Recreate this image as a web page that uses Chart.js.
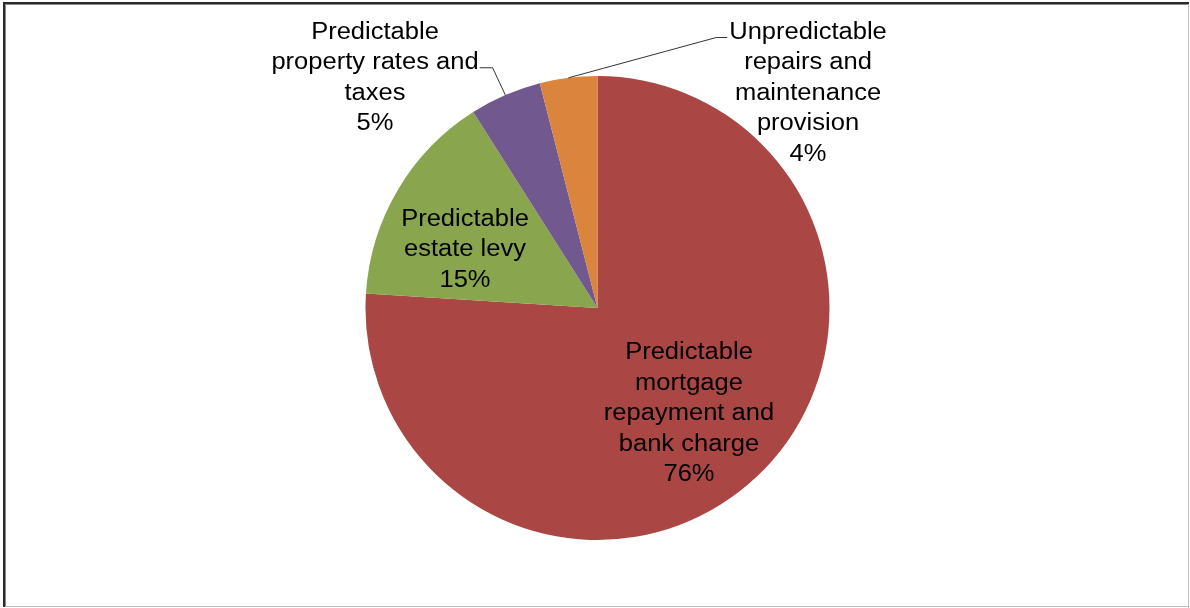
<!DOCTYPE html>
<html>
<head>
<meta charset="utf-8">
<script src="https://cdn.jsdelivr.net/npm/chart.js@4/dist/chart.umd.min.js"></script>
<style>
    html, body { margin: 0; padding: 0; background: #fff; }
    #wrap { position: relative; width: 1190px; height: 608px; }
</style>
</head>
<body>
<div id="wrap"><canvas id="chart" width="1190" height="608"></canvas></div>
<script>
var categories = [
    'Predictable mortgage repayment and bank charge',
    'Predictable estate levy',
    'Predictable property rates and taxes',
    'Unpredictable repairs and maintenance provision'
];
var shares = [76, 15, 5, 4];
var sliceColors = ['#AA4643', '#89A54E', '#71588F', '#DB843D'];

// how each category name wraps on the chart
var labelLines = [
    ['Predictable', 'mortgage', 'repayment and', 'bank charge'],
    ['Predictable', 'estate levy'],
    ['Predictable', 'property rates and', 'taxes'],
    ['Unpredictable', 'repairs and', 'maintenance', 'provision']
];

// label block centre, relative to the pie centre
var labelPos = [
    { dx: 91.5, dy: 106 },
    { dx: -132.5, dy: -58 },
    { dx: -222.5, dy: -230 },
    { dx: 210.5, dy: -214.5 }
];
// leader lines: which text line they attach to and on which side
var leaders = [null, null, { line: 1, side: 'right', dy: 5, run: 13 }, { line: 0, side: 'left', dy: 5, run: 11 }];

var FONT = '23px "Liberation Sans", Arial, sans-serif';
var SX = 1.11;
var LINE_H = 30.5;

var dataLabels = {
    id: 'dataLabels',
    afterDatasetsDraw: function (chart) {
        var ctx = chart.ctx;
        var arcs = chart.getDatasetMeta(0).data;
        ctx.save();
        ctx.font = FONT;
        ctx.fillStyle = '#000';
        ctx.textAlign = 'center';
        ctx.textBaseline = 'middle';
        arcs.forEach(function (arc, i) {
            var lines = labelLines[i].concat([shares[i] + '%']);
            var cx = arc.x + labelPos[i].dx;
            var top = arc.y + labelPos[i].dy - (lines.length - 1) * LINE_H / 2;
            lines.forEach(function (txt, k) {
                ctx.save();
                ctx.translate(cx, top + k * LINE_H);
                ctx.scale(SX, 1);
                ctx.fillText(txt, 0, 0);
                ctx.restore();
            });
            var ld = leaders[i];
            if (ld) {
                var w = ctx.measureText(lines[ld.line]).width * SX;
                var ey = top + ld.line * LINE_H + ld.dy;
                var ex = ld.side === 'right' ? cx + w / 2 + 1 : cx - w / 2 - 2;
                var elbowX = ld.side === 'right' ? ex + ld.run : ex - ld.run;
                var mid = (arc.startAngle + arc.endAngle) / 2;
                var ax = arc.x + Math.cos(mid) * arc.outerRadius;
                var ay = arc.y + Math.sin(mid) * arc.outerRadius;
                ctx.strokeStyle = '#333';
                ctx.lineWidth = 1;
                ctx.beginPath();
                ctx.moveTo(ax, ay);
                ctx.lineTo(elbowX, ey);
                ctx.lineTo(ex, ey);
                ctx.stroke();
            }
        });
        ctx.restore();
    },
    afterDraw: function (chart) {
        // outer frame
        var ctx = chart.ctx;
        ctx.save();
        ctx.fillStyle = '#bdbdbd';
        ctx.fillRect(1188, 2, 1, 606);
        ctx.fillRect(3, 606, 1186, 1);
        ctx.fillStyle = '#2a2a2a';
        ctx.fillRect(3, 2, 1186, 2);
        ctx.fillRect(3, 2, 2, 605);
        ctx.fillStyle = '#8a8a8a';
        ctx.fillRect(5, 4, 1183, 1);
        ctx.fillRect(5, 4, 1, 602);
        ctx.restore();
    }
};

new Chart(document.getElementById('chart'), {
    type: 'pie',
    data: {
        labels: categories,
        datasets: [{
            data: shares,
            backgroundColor: sliceColors,
            borderWidth: 0
        }]
    },
    options: {
        responsive: false,
        animation: false,
        layout: { padding: { top: 76, bottom: 68, left: 5, right: 0 } },
        plugins: {
            legend: { display: false },
            tooltip: { enabled: false }
        }
    },
    plugins: [dataLabels]
});
</script>
</body>
</html>
